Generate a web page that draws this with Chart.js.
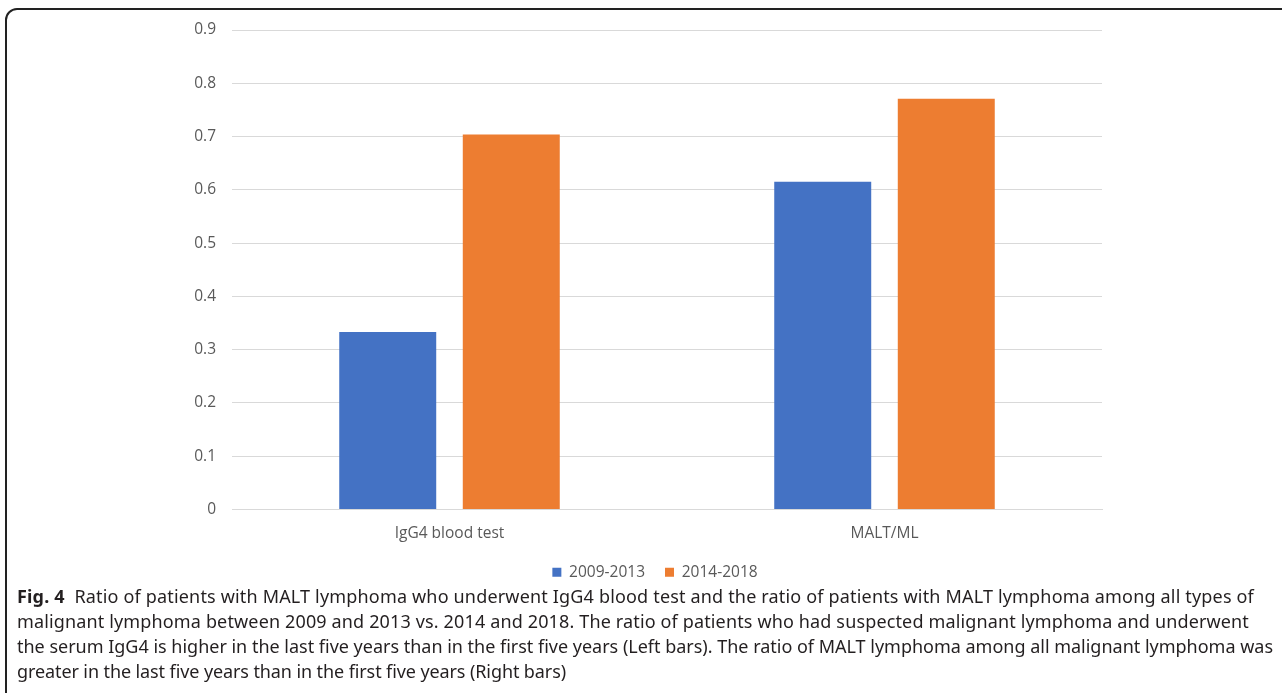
<!DOCTYPE html>
<html>
<head>
<meta charset="utf-8">
<script src="https://cdn.jsdelivr.net/npm/chart.js@4"></script>
<style>
  html, body { margin: 0; padding: 0; background: #fff; }
  body { width: 1282px; height: 693px; overflow: hidden; position: relative; }
  #frame {
    position: absolute; left: 5px; top: 8px; width: 1400px; height: 800px;
    border: 2px solid #222; border-top-left-radius: 12px; box-sizing: border-box;
  }
  #wrap { position: absolute; left: 0; top: 0; width: 1282px; height: 590px; }
  #caption {
    position: absolute; left: 17px; top: 584px;
    font-family: "Noto Sans", sans-serif; font-size: 18px; line-height: 25px;
    color: #231f20; white-space: nowrap;
  }
  #caption div { height: 25px; }
  #caption span { display: inline-block; }
</style>
</head>
<body>
<div id="frame"></div>
<div id="wrap"><canvas id="chart"></canvas></div>
<div id="caption">
  <div><span data-w="1237"><b>Fig. 4</b>&nbsp; Ratio of patients with MALT lymphoma who underwent IgG4 blood test and the ratio of patients with MALT lymphoma among all types of</span></div>
  <div><span data-w="1232">malignant lymphoma between 2009 and 2013 vs. 2014 and 2018. The ratio of patients who had suspected malignant lymphoma and underwent</span></div>
  <div><span data-w="1256">the serum IgG4 is higher in the last five years than in the first five years (Left bars). The ratio of MALT lymphoma among all malignant lymphoma was</span></div>
  <div><span data-w="549">greater in the last five years than in the first five years (Right bars)</span></div>
</div>
<script>
const categories = ['IgG4 blood test', 'MALT/ML'];
const seriesNames = ['2009-2013', '2014-2018'];
const values2009 = [0.333, 0.615];
const values2014 = [0.704, 0.771];
const yTicks = [0, 0.1, 0.2, 0.3, 0.4, 0.5, 0.6, 0.7, 0.8, 0.9];

// squeeze each caption line to the width it has in the figure
document.querySelectorAll('#caption span').forEach(span => {
    const target = Number(span.dataset.w);
    const chars = span.textContent.length;
    const diff = target - span.getBoundingClientRect().width;
    span.style.letterSpacing = (diff / chars) + 'px';
});

const tickFont = { family: '"Open Sans", sans-serif', size: 15.5 };

// legend sits a bit right of the plot centre in the original
const shiftLegend = {
    id: 'shiftLegend',
    afterLayout(chart) {
        chart.legend.left += 104;
        chart.legend.right += 104;
    }
};

const canvas = document.getElementById('chart');
const config = {
    type: 'bar',
    data: {
        labels: categories,
        datasets: [{
            label: seriesNames[0],
            data: values2009,
            backgroundColor: '#4472c4',
            categoryPercentage: 0.568,
            barPercentage: 0.785,
        }, {
            label: seriesNames[1],
            data: values2014,
            backgroundColor: '#ed7d31',
            categoryPercentage: 0.568,
            barPercentage: 0.785,
        }]
    },
    options: {
        responsive: true,
        maintainAspectRatio: false,
        animation: false,
        layout: { padding: { left: 0, right: 180, top: 30, bottom: 0 } },
        plugins: {
            tooltip: { enabled: false },
            legend: {
                position: 'bottom',
                labels: {
                    boxWidth: 9, boxHeight: 9, padding: 20,
                    color: '#595959',
                    font: tickFont,
                }
            }
        },
        scales: {
            x: {
                grid: { display: false },
                border: { color: '#d9d9d9', width: 1 },
                ticks: { color: '#595959', padding: 7, font: tickFont },
                afterFit: (scale) => { scale.height = 35; },
            },
            y: {
                min: 0, max: 0.9,
                afterBuildTicks: (scale) => { scale.ticks = yTicks.map(v => ({ value: v })); },
                grid: { color: '#d9d9d9', lineWidth: 1, drawTicks: false },
                border: { display: false },
                ticks: {
                    color: '#595959', padding: 16, font: tickFont,
                    callback: (v) => String(Math.round(v * 10) / 10),
                },
                afterFit: (scale) => { scale.width = 232; },
            }
        }
    },
    plugins: [shiftLegend]
};

new Chart(canvas, config);
</script>
</body>
</html>
